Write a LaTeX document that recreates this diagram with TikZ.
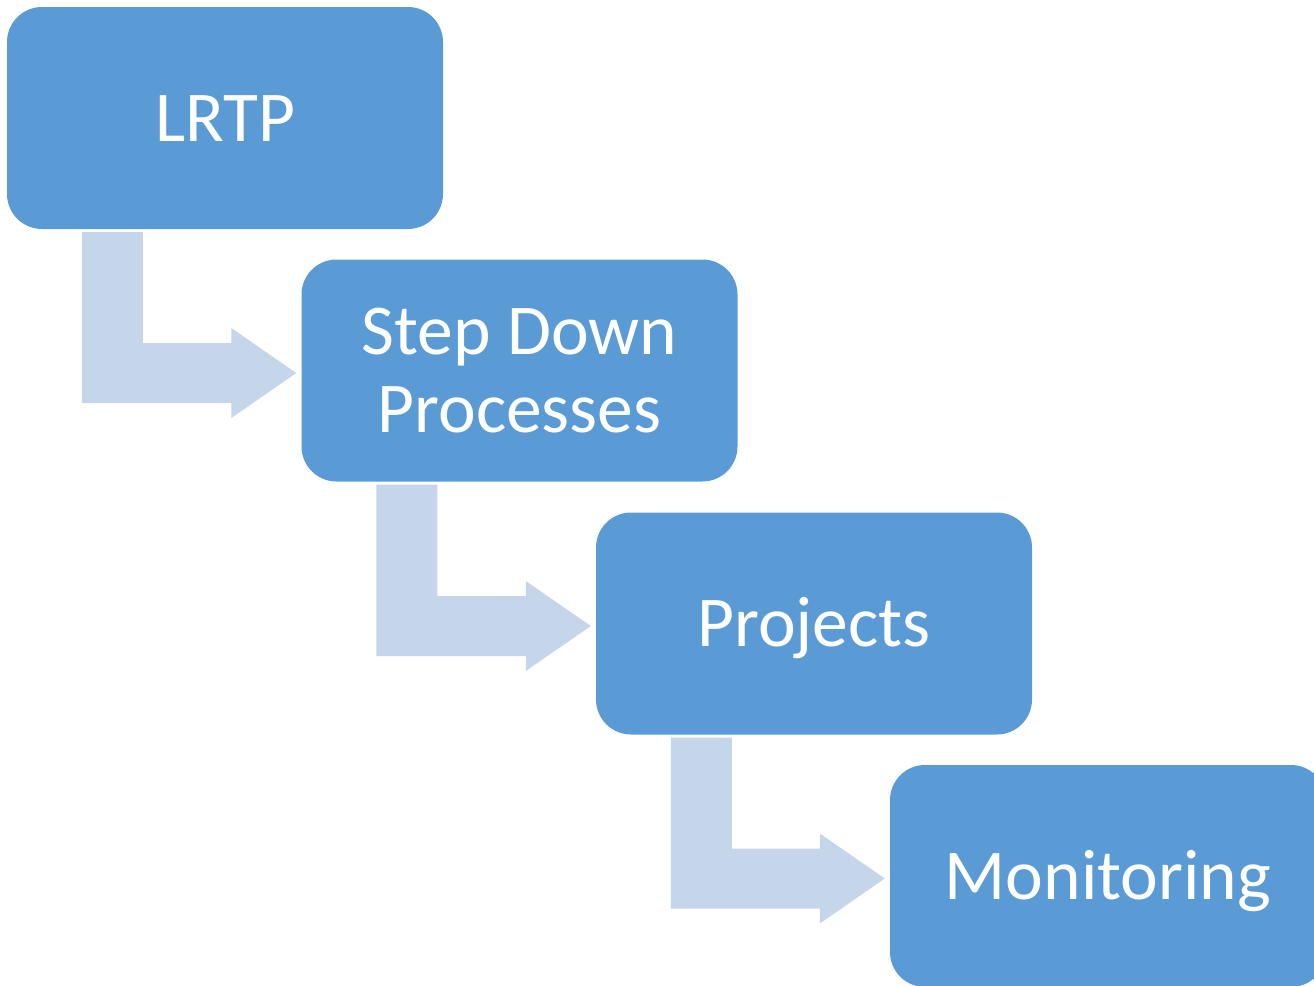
\documentclass[tikz,border=0pt]{standalone}
\usepackage{fontspec}
\setmainfont{Carlito}
\usetikzlibrary{calc}
\definecolor{boxblue}{HTML}{5B9BD5}
\definecolor{arrowblue}{HTML}{C5D5EA}
\tikzset{
  stagebox/.style={fill=boxblue, draw=none, rounded corners=35pt, minimum width=436pt, minimum height=222pt, inner sep=0pt, text=white, align=center, font=\fontsize{71.5}{78}\selectfont},
  oneline/.style={text height=46pt, text depth=0pt},
  arrowfill/.style={fill=arrowblue, draw=none}
}
\newcommand\bentarrow[2]{%
  \path[arrowfill] let \p1=($(#1.south west)+(75,3)$), \p2=($(#2.west)+(-5,2.5)$) in
    (\x1,\y1) -- (\x1+61pt,\y1) -- (\x1+61pt,\y2+30pt) -- (\x2-65pt,\y2+30pt)
    -- (\x2-65pt,\y2+45pt) -- (\x2,\y2) -- (\x2-65pt,\y2-45pt) -- (\x2-65pt,\y2-30pt)
    -- (\x1,\y2-30pt) -- cycle;}
\begin{document}
\begin{tikzpicture}[x=1pt,y=-1pt]
\useasboundingbox (0,0) rectangle (1314,985);
\clip (0,0) rectangle (1314,985);
\node[stagebox,oneline] (a) at (225,118) {LRTP};
\node[stagebox] (b) at (519.5,370.5) {Step Down\\Processes};
\node[stagebox,oneline] (c) at (814,623.5) {Projects};
\node[stagebox,oneline] (d) at (1108,876) {Monitoring};
\bentarrow{a}{b}
\bentarrow{b}{c}
\bentarrow{c}{d}
\end{tikzpicture}
\end{document}
